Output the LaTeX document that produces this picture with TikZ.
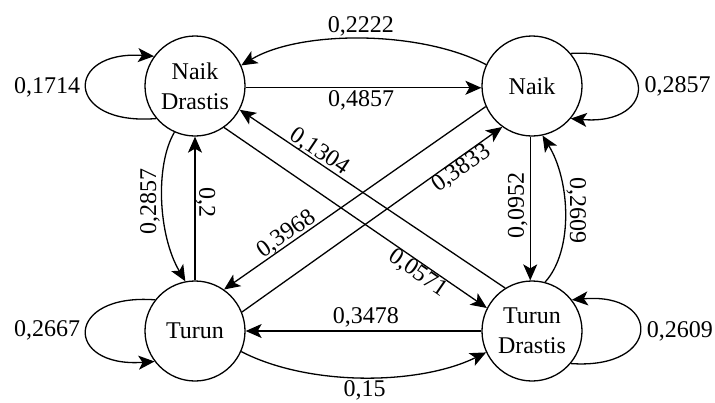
\documentclass[tikz,border=0pt]{standalone}
\usepackage{fontspec}
\setmainfont{LiberationSerif}[Extension=.ttf, UprightFont=*-Regular]
\usetikzlibrary{arrows.meta}
\begin{document}
\begin{tikzpicture}[x=1pt,y=-1pt,
  state/.style={circle, draw, line width=1.3pt, minimum size=100pt, inner sep=0pt,
    align=center, font=\fontsize{24}{30}\selectfont},
  edge/.style={line width=1.3pt, -{Stealth[length=16pt,width=14pt,inset=4pt]}},
  lbl/.style={font=\fontsize{24}{28}\selectfont, inner sep=2pt}]
\useasboundingbox[fill=white] (0,0) rectangle (715,402);

% states
\node[state] (ND) at (195,86)  {Naik\\Drastis};
\node[state] (N)  at (532,86)  {Naik};
\node[state] (T)  at (195,331) {Turun};
\node[state] (TD) at (532,331) {Turun\\Drastis};

% self loops
\draw[edge] (ND.220) .. controls (64,126) and (64,50) .. (ND.144)
  node[lbl, pos=.5, left=4pt] (lND) {0,1714};
\draw[edge] (N.40) .. controls (659,48) and (659,126) .. (N.-40)
  node[lbl, pos=.5, right=5pt] (lN) {0,2857};
\draw[edge] (T.142) .. controls (64,293) and (64,368) .. (T.217)
  node[lbl, pos=.5, left=4pt] (lT) {0,2667};
\draw[edge] (TD.-40) .. controls (662,370) and (662,292) .. (TD.38)
  node[lbl, pos=.5, right=5pt] (lTD) {0,2609};

% top pair
\draw[edge] (N.155) .. controls (420,30) and (300,30) .. (ND.24)
  node[lbl, pos=.5, above=0pt] (lNND) {0,2222};
\draw[edge] (ND.-2) -- (N.182)
  node[lbl, pos=.49, below=0pt] (lNDN) {0,4857};

% bottom pair
\draw[edge] (TD.west) -- (T.east)
  node[lbl, pos=.49, above=1pt] (lTDT) {0,3478};
\draw[edge] (T.-24) .. controls (310,387) and (420,385) .. (TD.205)
  node[lbl, pos=.5, below=0pt] (lTTD) {0,15};

% left pair
\draw[edge] (ND.246) .. controls (155,165) and (158,235) .. (T.101)
  node[lbl, pos=.5, rotate=90, anchor=south] (lNDT) {0,2857};
\draw[edge] (T.north) -- (ND.south)
  node[lbl, pos=.545, rotate=-90, anchor=south, inner sep=0pt] (lTND) {0,2};

% right pair
\draw[edge] (N.268) -- (TD.92)
  node[lbl, pos=.476, rotate=90, anchor=south] (lNTD) {0,0952};
\draw[edge] (TD.75) .. controls (574,250) and (570,180) .. (N.-78)
  node[lbl, pos=.52, rotate=-90, anchor=south, inner sep=1pt] (lTDN) {0,2609};

% diagonals
\draw[edge] (ND.-55) -- (TD.153)
  node[lbl, pos=.76, sloped, below=-2pt] (lNDTD) {0,0571};
\draw[edge] (TD.122) -- (ND.-28)
  node[lbl, pos=.72, sloped, above=-3pt] (lTDND) {0,1304};
\draw[edge] (N.204) -- (T.55)
  node[lbl, pos=.74, sloped, above=-3pt] (lNT) {0,3968};
\draw[edge] (T.22) -- (N.234)
  node[lbl, pos=.82, sloped, below=-2pt] (lTN) {0,3833};
\end{tikzpicture}
\end{document}
